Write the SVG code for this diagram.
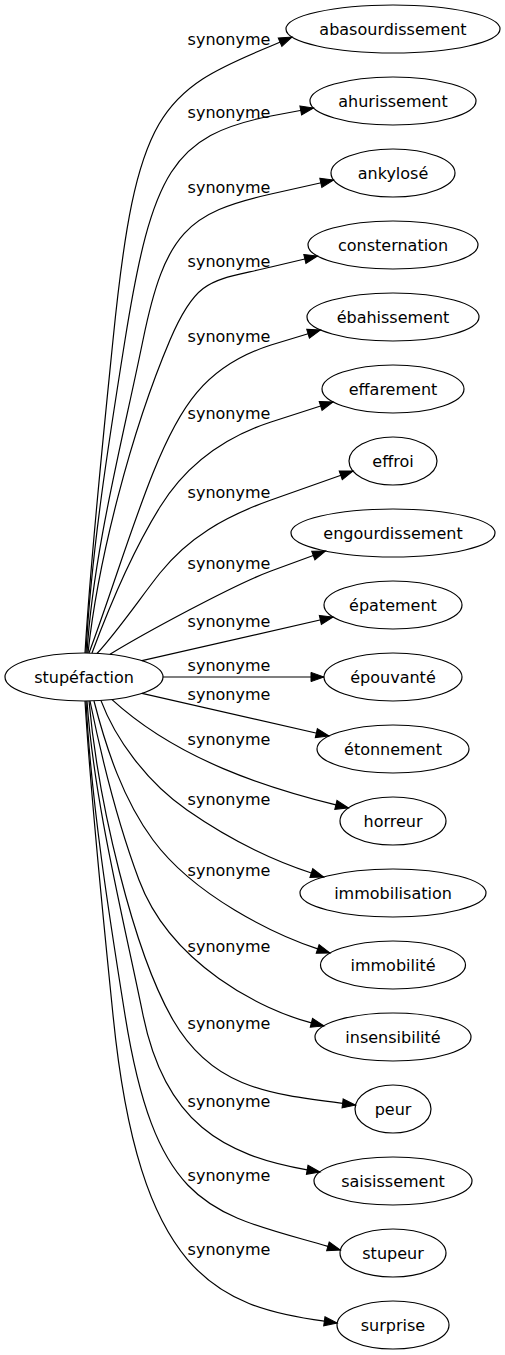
<svg xmlns="http://www.w3.org/2000/svg" width="505" height="1355" viewBox="0 0 505 1355">
<style>
.n ellipse{fill:none;stroke:#000;stroke-width:1.2}
.n text{font-family:"DejaVu Sans","Liberation Sans",sans-serif;font-size:16px;fill:#000;text-anchor:middle}
.e path{fill:none;stroke:#000;stroke-width:1.2;marker-end:url(#ah)}
.e text{font-family:"DejaVu Sans","Liberation Sans",sans-serif;font-size:16px;fill:#000;text-anchor:middle}
</style>
<defs>
<marker id="ah" markerWidth="14" markerHeight="10" refX="13" refY="4.6" orient="auto" markerUnits="userSpaceOnUse" overflow="visible">
<path d="M0,0 L13,4.6 L0,9.2 z" fill="#000" stroke="#000" stroke-width="1"/>
</marker>
</defs>
<rect x="0" y="0" width="505" height="1355" fill="#fff"/>
<g id="connectors" class="e">
<path d="M85,653 C91,553 103,439.5 113,340 C135.9,111.2 159.9,91.5 271,46 L292,37"/>
<path d="M86,653 C91,553 109.2,438.7 125,340 C151.9,172.2 172.8,135.2 271,116 L313.5,108"/>
<path d="M87,653 C93,553 123,438 143,340 C165,232.2 188.1,212.7 271,194 L333.5,180"/>
<path d="M88,653 C98,560 131,432 170,340 C197.3,275.6 212.7,281.3 271,267 L317.5,256"/>
<path d="M89,653 C110,597 130.6,528.7 153,473 C179.1,408 204.3,366.3 271,345 L320.5,330"/>
<path d="M92,653 C109.5,606 133.6,549.5 160,507 C186.4,464.5 223.5,437.5 271,422 L333,402"/>
<path d="M97,653.5 C117.4,631.6 141.3,596.5 160,573 C188,537.8 223.9,516.9 271,500 L353,471"/>
<path d="M110,654.3 C144,633.5 233.5,584.9 271,571 L325.5,551"/>
<path d="M142,660.7 L333,617"/>
<path d="M163,677 L324,677"/>
<path d="M142,693.3 L329,736"/>
<path d="M112,699.6 C178,760 268,788.1 335.9,804.9 L348.5,808"/>
<path d="M101,700.6 C115,738 146,781.5 187,810 C219.8,832.8 263.9,857.5 311.35,873 L323.7,877"/>
<path d="M94,701 C106.5,749.5 123.3,799.8 153,840 C194.7,896.3 275,934.7 317.7,948.9 L330,953"/>
<path d="M90,701 C102,760 118,823.8 139,880 C170.5,964.3 262.9,1010.7 311.4,1022.8 L324,1026"/>
<path d="M89,701 C98,801 133,950.7 173,1020 C210.5,1085 263.2,1093.8 342.6,1103.4 L355.5,1105"/>
<path d="M87,701 C94,801 123,917 143,1015 C165,1122.8 223.5,1155.1 307.2,1169.8 L320,1172"/>
<path d="M86,701 C91,801 109.2,916.3 125,1015 C156.6,1212.4 212.7,1212.8 327.9,1246.4 L340.4,1250"/>
<path d="M85,701 C91,801 103,915.5 113,1015 C138.9,1273.7 215.4,1306.4 324.3,1321.2 L337.2,1323"/>
<text x="229" y="45">synonyme</text>
<text x="229" y="118">synonyme</text>
<text x="229" y="193">synonyme</text>
<text x="229" y="267">synonyme</text>
<text x="229" y="342">synonyme</text>
<text x="229" y="419">synonyme</text>
<text x="229" y="498">synonyme</text>
<text x="229" y="569">synonyme</text>
<text x="229" y="627">synonyme</text>
<text x="229" y="671">synonyme</text>
<text x="229" y="700">synonyme</text>
<text x="229" y="745">synonyme</text>
<text x="229" y="805">synonyme</text>
<text x="229" y="876">synonyme</text>
<text x="229" y="952">synonyme</text>
<text x="229" y="1029">synonyme</text>
<text x="229" y="1107">synonyme</text>
<text x="229" y="1181">synonyme</text>
<text x="229" y="1255">synonyme</text>
</g>
<g id="stupefaction" class="n"><ellipse cx="84" cy="677" rx="79" ry="24"/><text x="84" y="682.6">stupéfaction</text></g>
<g id="abasourdissement" class="n"><ellipse cx="393" cy="29" rx="107" ry="24"/><text x="393" y="34.6">abasourdissement</text></g>
<g id="ahurissement" class="n"><ellipse cx="393" cy="101" rx="83" ry="24"/><text x="393" y="106.6">ahurissement</text></g>
<g id="ankylose" class="n"><ellipse cx="393" cy="173" rx="62" ry="24"/><text x="393" y="178.6">ankylosé</text></g>
<g id="consternation" class="n"><ellipse cx="393" cy="245" rx="85" ry="24"/><text x="393" y="250.6">consternation</text></g>
<g id="ebahissement" class="n"><ellipse cx="393" cy="317" rx="86" ry="24"/><text x="393" y="322.6">ébahissement</text></g>
<g id="effarement" class="n"><ellipse cx="393" cy="389" rx="71" ry="24"/><text x="393" y="394.6">effarement</text></g>
<g id="effroi" class="n"><ellipse cx="393" cy="461" rx="44" ry="24"/><text x="393" y="466.6">effroi</text></g>
<g id="engourdissement" class="n"><ellipse cx="393" cy="533" rx="102" ry="24"/><text x="393" y="538.6">engourdissement</text></g>
<g id="epatement" class="n"><ellipse cx="393" cy="605" rx="69" ry="24"/><text x="393" y="610.6">épatement</text></g>
<g id="epouvante" class="n"><ellipse cx="393" cy="677" rx="69" ry="24"/><text x="393" y="682.6">épouvanté</text></g>
<g id="etonnement" class="n"><ellipse cx="393" cy="749" rx="76" ry="24"/><text x="393" y="754.6">étonnement</text></g>
<g id="horreur" class="n"><ellipse cx="393" cy="821" rx="53" ry="24"/><text x="393" y="826.6">horreur</text></g>
<g id="immobilisation" class="n"><ellipse cx="393" cy="893" rx="93" ry="24"/><text x="393" y="898.6">immobilisation</text></g>
<g id="immobilite" class="n"><ellipse cx="393" cy="965" rx="72.5" ry="24"/><text x="393" y="970.6">immobilité</text></g>
<g id="insensibilite" class="n"><ellipse cx="393" cy="1037" rx="78" ry="24"/><text x="393" y="1042.6">insensibilité</text></g>
<g id="peur" class="n"><ellipse cx="393" cy="1109" rx="38" ry="24"/><text x="393" y="1114.6">peur</text></g>
<g id="saisissement" class="n"><ellipse cx="393" cy="1181" rx="79" ry="24"/><text x="393" y="1186.6">saisissement</text></g>
<g id="stupeur" class="n"><ellipse cx="393" cy="1253" rx="53" ry="24"/><text x="393" y="1258.6">stupeur</text></g>
<g id="surprise" class="n"><ellipse cx="393" cy="1325" rx="56" ry="24"/><text x="393" y="1330.6">surprise</text></g>
</svg>
